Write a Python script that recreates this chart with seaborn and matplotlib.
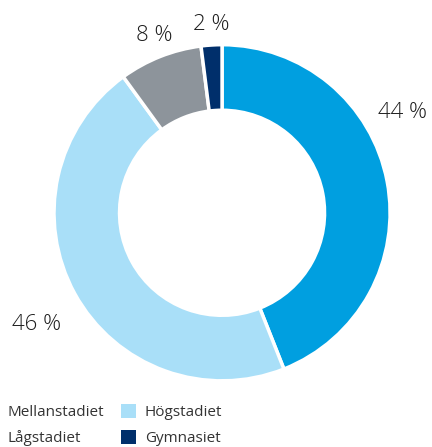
import numpy as np
import seaborn as sns
import matplotlib.pyplot as plt
from matplotlib.patches import Patch

# Data
kategorier = ['Mellanstadiet', 'Högstadiet', 'Lågstadiet', 'Gymnasiet']
andelar = [44, 46, 8, 2]
etiketter = ['44 %', '46 %', '8 %', '2 %']
farger = ['#009fe0', '#a9dff8', '#8d949b', '#002f6b']

sns.set_theme(style='white')
plt.rcParams['font.family'] = ['Open Sans', 'DejaVu Sans']

fig = plt.figure(figsize=(4.32, 4.47), dpi=100)
ax = fig.add_axes([0.125, 0.148, 0.778, 0.752])

wedges, _ = ax.pie(andelar, colors=farger, startangle=90, counterclock=False,
                   wedgeprops=dict(width=0.39, edgecolor='white', linewidth=2.5))
ax.set_xlim(-1, 1)
ax.set_ylim(-1, 1)
ax.set_aspect('auto')
ax.axis('off')

# Etiketter: vinkel (grader) och avstand fran centrum
vinklar = [29, 211, 111, 93.3]
avstand = [1.23, 1.29, 1.13, 1.125]
for txt, v, r in zip(etiketter, vinklar, avstand):
    x = r * np.cos(np.radians(v))
    y = r * np.sin(np.radians(v))
    ax.text(x, y, txt, ha='center', va='center', fontsize=16, color='#1e1e1e',
            fontweight='light')

# Legend (forsta kolumnen utan synliga rutor)
handtag = [Patch(facecolor='none', edgecolor='none'),
           Patch(facecolor='none', edgecolor='none'),
           Patch(facecolor=farger[1], edgecolor='none'),
           Patch(facecolor=farger[3], edgecolor='none')]
namn = [kategorier[0], kategorier[2], kategorier[1], kategorier[3]]
fig.legend(handtag, namn, loc='upper left', bbox_to_anchor=(-0.055, 0.113),
           ncol=2, frameon=False, fontsize=11, handlelength=1.0,
           handleheight=1.0, handletextpad=0.55, columnspacing=1.1,
           labelspacing=0.65, borderpad=0, labelcolor='#333333')

fig.savefig('out.png', dpi=100)
